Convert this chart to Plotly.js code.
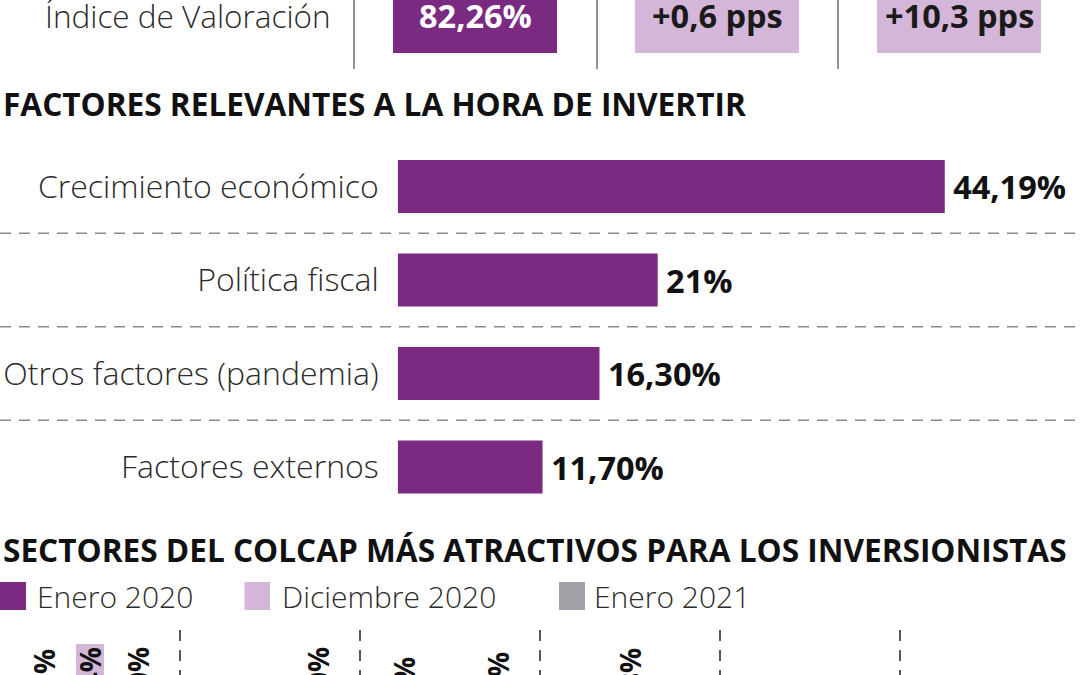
<!DOCTYPE html>
<html>
<head>
<meta charset="utf-8">
<script src="https://cdn.plot.ly/plotly-3.0.1.min.js"></script>
<style>
html,body{margin:0;padding:0;background:#fff;}
#chart{width:1080px;height:675px;}
</style>
</head>
<body>
<div id="chart"></div>
<script>
// ---------- DATA ----------
const kpiTitle = 'Índice de Valoración';
const kpiLabels = ['82,26%', '+0,6 pps', '+10,3 pps'];

const factorTitle = 'FACTORES RELEVANTES A LA HORA DE INVERTIR';
const factorLabels = ['Crecimiento económico', 'Política fiscal', 'Otros factores (pandemia)', 'Factores externos'];
const factorValues = [44.19, 21, 16.30, 11.70];
const factorText = ['44,19%', '21%', '16,30%', '11,70%'];

const sectorTitle = 'SECTORES DEL COLCAP MÁS ATRACTIVOS PARA LOS INVERSIONISTAS';
const sectors = ['Financiero', 'Energético', 'Servicios públicos', 'Industrial', 'Consumo', 'Construcción'];
const seriesNames = ['Enero 2020', 'Diciembre 2020', 'Enero 2021'];
const ene2020 = [27.6, 18.5, 26.0, 12.3, 10.2, 5.4];
const dic2020 = [45.4, 10.3, 8.4, 27.8, 5.3, 2.8];
const ene2021 = [28.0, 28.0, 27.0, 10.8, 4.1, 2.1];

// ---------- STYLE ----------
const W = 1080, H = 675;
const PURPLE = '#7b2a82', LILAC = '#d3b6d8', GRAY = '#a3a1a8';
const seriesColors = [PURPLE, LILAC, GRAY];
const px = v => v / W;            // x pixel -> paper
const py = v => 1 - v / H;        // y pixel -> paper
const fmt = v => v.toFixed(1).replace('.', ',') + '%';

const LIGHT = {family: '"Open Sans", sans-serif', size: 31, color: '#2b2b2b', weight: 300};
const BOLD = {family: '"Open Sans", sans-serif', size: 30, color: '#111', weight: 700};

// ---------- TRACES ----------
const traces = [];

// Top: horizontal bars
traces.push({
  type: 'bar', orientation: 'h',
  x: factorValues, y: factorLabels,
  xaxis: 'x2', yaxis: 'y2',
  width: 0.567,
  marker: {color: PURPLE, line: {width: 0}},
  text: factorText.map(t => '\u2009' + t), textposition: 'outside', cliponaxis: false,
  textfont: Object.assign({}, BOLD, {size: 32.5}),
  constraintext: 'none',
  hoverinfo: 'skip', showlegend: false
});

// Bottom: grouped vertical bars (only their tops are in view)
const seriesData = [ene2020, dic2020, ene2021];
const centers = [-0.256, 0, 0.267];
const bw = 28 / 180;
const rotFont = {family: '"Open Sans", sans-serif', size: 28, color: '#111', weight: 700};
seriesData.forEach((vals, i) => {
  const pos = vals.map((v, j) => (i === 1 && j === 0) ? 'inside' : 'outside');
  traces.push({
    type: 'bar', name: seriesNames[i],
    x: sectors, y: vals,
    xaxis: 'x', yaxis: 'y',
    width: bw, offset: centers[i] - bw / 2,
    marker: {color: seriesColors[i], line: {width: 0}},
    text: vals.map(fmt), textposition: pos, textangle: -90,
    insidetextanchor: 'end', constraintext: 'none', cliponaxis: true,
    textfont: rotFont, insidetextfont: rotFont, outsidetextfont: rotFont,
    hoverinfo: 'skip', showlegend: false
  });
});

// ---------- SHAPES & ANNOTATIONS ----------
const shapes = [];
const annotations = [];

// KPI row
const kpiBoxes = [[393, 557], [635, 799], [877, 1041]];
const kpiFill = [PURPLE, LILAC, LILAC];
const kpiFont = ['#ffffff', '#1a1a1a', '#1a1a1a'];
[354, 597, 838].forEach(x => shapes.push({
  type: 'line', xref: 'paper', yref: 'paper',
  x0: px(x), x1: px(x), y0: py(69), y1: 1.01,
  line: {color: '#6e6e6e', width: 1.5}
}));
kpiLabels.forEach((t, i) => {
  const [a, b] = kpiBoxes[i];
  shapes.push({type: 'rect', xref: 'paper', yref: 'paper',
    x0: px(a), x1: px(b), y0: py(53), y1: 1.05,
    fillcolor: kpiFill[i], line: {width: 0}, layer: 'below'});
  annotations.push({xref: 'paper', yref: 'paper', x: px((a + b) / 2), y: py(16),
    xanchor: 'center', yanchor: 'middle', showarrow: false, text: t,
    font: Object.assign({}, BOLD, {color: kpiFont[i], size: 32.5})});
});
annotations.push({xref: 'paper', yref: 'paper', x: px(333), y: py(16),
  xanchor: 'right', yanchor: 'middle', showarrow: false, text: kpiTitle,
  font: Object.assign({}, LIGHT, {size: 31.5})});

// Section titles
annotations.push({xref: 'paper', yref: 'paper', x: px(1), y: py(104),
  xanchor: 'left', yanchor: 'middle', showarrow: false, text: factorTitle,
  font: Object.assign({}, BOLD, {size: 31.6})});
annotations.push({xref: 'paper', yref: 'paper', x: px(1), y: py(549),
  xanchor: 'left', yanchor: 'middle', showarrow: false, text: sectorTitle,
  font: Object.assign({}, BOLD, {size: 31.6})});

// Dashed separators between factor rows
[0.5, 1.5, 2.5].forEach(c => shapes.push({
  type: 'line', xref: 'paper', yref: 'y2',
  x0: 0, x1: 1, y0: c, y1: c,
  line: {color: '#8a8a8a', width: 1.5, dash: '11px,8px'}
}));

// Dashed separators between sector groups
[0.5, 1.5, 2.5, 3.5, 4.5].forEach(c => shapes.push({
  type: 'line', xref: 'x', yref: 'y domain',
  x0: c, x1: c, y0: 1, y1: 0,
  line: {color: '#222', width: 1.5, dash: '11px,9px'}
}));

// Legend (drawn by hand to match the large swatches)
const legSq = [[0, 26], [244.5, 270], [559, 585]];
const legTx = [35, 279.5, 592];
seriesNames.forEach((n, i) => {
  shapes.push({type: 'rect', xref: 'paper', yref: 'paper',
    x0: px(legSq[i][0]), x1: px(legSq[i][1]), y0: py(610), y1: py(582),
    fillcolor: seriesColors[i], line: {width: 0}});
  annotations.push({xref: 'paper', yref: 'paper', x: px(legTx[i]), y: py(596),
    xanchor: 'left', yanchor: 'middle', showarrow: false, text: n,
    font: Object.assign({}, LIGHT, {size: 30})});
});

// ---------- LAYOUT ----------
const layout = {
  width: W, height: H,
  margin: {l: 0, r: 0, t: 0, b: 0, pad: 0},
  paper_bgcolor: '#ffffff', plot_bgcolor: 'rgba(0,0,0,0)',
  barmode: 'overlay', showlegend: false,
  xaxis: {domain: [0, 1], type: 'category', range: [-0.5, 5.5],
    showticklabels: false, showgrid: false, zeroline: false, showline: false, ticks: '', fixedrange: true},
  yaxis: {domain: [0, 45 / H], range: [39.2, 48.2], visible: false, fixedrange: true},
  xaxis2: {domain: [397.7 / W, 1], range: [0, 682.3 / 12.38], anchor: 'y2', visible: false, fixedrange: true},
  yaxis2: {domain: [py(513.75), py(139.75)], anchor: 'x2', type: 'category',
    range: [3.5, -0.5], showgrid: false, zeroline: false, showline: false, ticks: '',
    ticklabelstandoff: 18, tickfont: Object.assign({}, LIGHT, {size: 32}), fixedrange: true},
  shapes: shapes,
  annotations: annotations,
  font: {family: '"Open Sans", sans-serif'}
};

Plotly.newPlot('chart', traces, layout, {displayModeBar: false, staticPlot: true});
</script>
</body>
</html>
